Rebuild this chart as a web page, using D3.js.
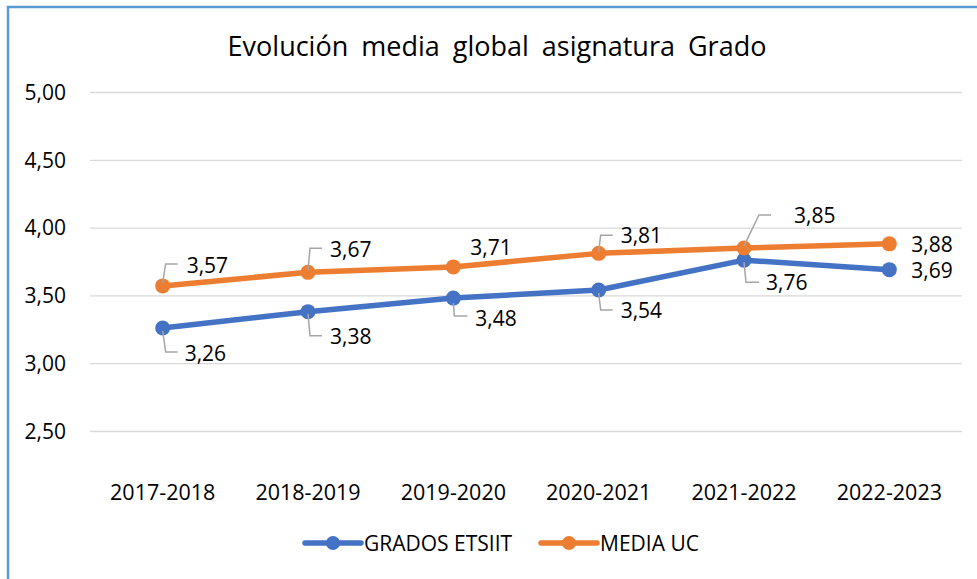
<!DOCTYPE html>
<html>
<head>
<meta charset="utf-8">
<script src="https://cdn.jsdelivr.net/npm/d3@7"></script>
<style>
  html, body { margin: 0; padding: 0; background: #fff; }
  svg { display: block; }
  text { font-family: "Open Sans", "Liberation Sans", sans-serif; fill: #000; }
</style>
</head>
<body>
<svg id="chart" width="977" height="579"></svg>
<script>
const categories = ["2017-2018", "2018-2019", "2019-2020", "2020-2021", "2021-2022", "2022-2023"];
const gradosEtsiit = [3.26, 3.38, 3.48, 3.54, 3.76, 3.69];
const mediaUC = [3.57, 3.67, 3.71, 3.81, 3.85, 3.88];
const yTicks = [2.5, 3.0, 3.5, 4.0, 4.5, 5.0];
const seriesNames = ["GRADOS ETSIIT", "MEDIA UC"];
const title = "Evolución media global asignatura Grado";

// label layout (offsets from point, in px) – styling only
const labelLayout = {
  "GRADOS ETSIIT": [
    {tx: 22, ty: 25, leader: [[0, 3], [3, 24], [15, 24]]},
    {tx: 22, ty: 24, leader: [[0, 2], [2, 24], [14, 24]]},
    {tx: 22, ty: 20, leader: [[0, 5], [1, 18], [14, 18]]},
    {tx: 22, ty: 20, leader: [[0, 3], [2, 20], [14, 20]]},
    {tx: 22, ty: 22, leader: [[0, 2], [2, 22], [15, 22]]},
    {tx: 22, ty: 0, leader: null}
  ],
  "MEDIA UC": [
    {tx: 24, ty: -21, leader: [[0, -3], [3, -22], [15, -22]]},
    {tx: 22, ty: -23, leader: [[0, -2], [2, -24], [14, -24]]},
    {tx: 17, ty: -20, leader: null},
    {tx: 22, ty: -18, leader: [[0, -2], [2, -18], [14, -18]]},
    {tx: 50, ty: -33, leader: [[0, -2], [15, -33], [27, -33]]},
    {tx: 22, ty: 0, leader: null}
  ]
};

const colors = {"GRADOS ETSIIT": "#4472C4", "MEDIA UC": "#ED7D31"};
const series = [
  {name: seriesNames[0], values: gradosEtsiit},
  {name: seriesNames[1], values: mediaUC}
];

const svg = d3.select("#chart");

// chart border
svg.append("rect")
  .attr("x", 8).attr("y", 7).attr("width", 990).attr("height", 600)
  .attr("fill", "#fff").attr("stroke", "#5B9BD5").attr("stroke-width", 2.5);

const plot = {left: 90, right: 962, top: 92, bottom: 431};

const x = d3.scaleBand().domain(categories).range([plot.left, plot.right]);
const y = d3.scaleLinear().domain([2.5, 5.0]).range([plot.bottom, plot.top]);
const fmt = v => d3.format(".2f")(v).replace(".", ",");

// title
svg.append("text")
  .attr("x", 497).attr("y", 45)
  .attr("text-anchor", "middle").attr("dominant-baseline", "central")
  .style("font-size", "27px").style("word-spacing", "6px")
  .text(title);

// gridlines
const yAxis = d3.axisLeft(y).tickValues(yTicks).tickSize(-(plot.right - plot.left)).tickFormat(fmt).tickPadding(24);
const gy = svg.append("g").attr("transform", `translate(${plot.left},0)`).call(yAxis);
gy.select(".domain").remove();
gy.selectAll(".tick line").attr("stroke", "#D9D9D9").attr("stroke-width", 1.3);
gy.selectAll(".tick text").style("font-size", "21px").attr("fill", "#000").attr("dy", "0.35em");

// x axis labels
const xAxis = d3.axisBottom(x).tickSize(0).tickPadding(0);
const gx = svg.append("g").attr("transform", `translate(0,${plot.bottom})`).call(xAxis);
gx.select(".domain").remove();
gx.selectAll(".tick text").style("font-size", "21.5px").attr("fill", "#000").attr("dy", "0").attr("y", 60)
  .attr("dominant-baseline", "central");

const cx = c => x(c) + x.bandwidth() / 2;
const line = d3.line().x((d, i) => cx(categories[i])).y(d => y(d));

series.forEach(s => {
  const g = svg.append("g");
  g.append("path").datum(s.values).attr("d", line)
    .attr("fill", "none").attr("stroke", colors[s.name]).attr("stroke-width", 5.5)
    .attr("stroke-linejoin", "round").attr("stroke-linecap", "round");
  g.selectAll("circle").data(s.values).join("circle")
    .attr("cx", (d, i) => cx(categories[i])).attr("cy", d => y(d)).attr("r", 7.5)
    .attr("fill", colors[s.name]);
});

// labels and leader lines
series.forEach(s => {
  const layout = labelLayout[s.name];
  s.values.forEach((v, i) => {
    const px = cx(categories[i]), py = y(v);
    const L = layout[i];
    if (L.leader) {
      svg.append("path")
        .attr("d", d3.line()(L.leader.map(p => [px + p[0], py + p[1]])))
        .attr("fill", "none").attr("stroke", "#A6A6A6").attr("stroke-width", 1.5);
    }
    svg.append("text")
      .attr("x", px + L.tx).attr("y", py + L.ty)
      .attr("dominant-baseline", "central")
      .style("font-size", "21px")
      .text(fmt(v));
  });
});

// legend
const legendItems = [{name: seriesNames[0], x: 305}, {name: seriesNames[1], x: 541}];
legendItems.forEach(it => {
  const g = svg.append("g").attr("transform", `translate(${it.x},543)`);
  g.append("line").attr("x1", 0).attr("x2", 56).attr("y1", 0).attr("y2", 0)
    .attr("stroke", colors[it.name]).attr("stroke-width", 5.5).attr("stroke-linecap", "round");
  g.append("circle").attr("cx", 28).attr("cy", 0).attr("r", 7).attr("fill", colors[it.name]);
  g.append("text").attr("x", 59).attr("y", 0).attr("dominant-baseline", "central")
    .style("font-size", "21px").text(it.name);
});
</script>
</body>
</html>
